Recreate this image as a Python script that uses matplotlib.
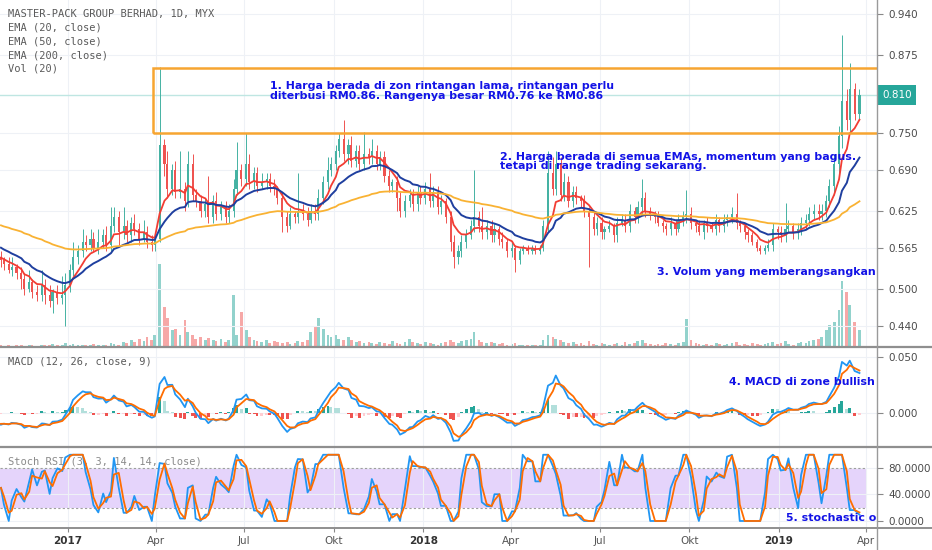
import numpy as np
import pandas as pd
import matplotlib
matplotlib.use("Agg")
import matplotlib.pyplot as plt
import matplotlib.dates as mdates
import matplotlib.transforms as mtransforms
from matplotlib.patches import Rectangle
from matplotlib.lines import Line2D

# ---- data: 3-day bars ----
start_date = "2016-10-24"
first_open = 0.55

close = [
    0.545, 0.540, 0.530, 0.535, 0.525, 0.515, 0.500, 0.510, 0.495, 0.490,
    0.505, 0.490, 0.480, 0.495, 0.485, 0.490, 0.505, 0.530, 0.550, 0.560,
    0.575, 0.570, 0.580, 0.565, 0.575, 0.585, 0.570, 0.600, 0.615, 0.590,
    0.600, 0.585, 0.605, 0.595, 0.580, 0.590, 0.575, 0.570, 0.580, 0.730,
    0.700, 0.660, 0.690, 0.655, 0.660, 0.640, 0.700, 0.650, 0.640, 0.625,
    0.635, 0.615, 0.640, 0.620, 0.630, 0.615, 0.625, 0.660, 0.690, 0.675,
    0.700, 0.670, 0.685, 0.665, 0.670, 0.675, 0.665, 0.660, 0.645, 0.615,
    0.600, 0.620, 0.615, 0.625, 0.620, 0.610, 0.625, 0.620, 0.645, 0.670,
    0.690, 0.700, 0.720, 0.740, 0.715, 0.730, 0.705, 0.720, 0.700, 0.715,
    0.710, 0.720, 0.700, 0.710, 0.680, 0.665, 0.670, 0.645, 0.625, 0.640,
    0.650, 0.635, 0.655, 0.645, 0.660, 0.640, 0.655, 0.630, 0.640, 0.615,
    0.575, 0.550, 0.560, 0.575, 0.585, 0.600, 0.615, 0.600, 0.590, 0.600,
    0.585, 0.595, 0.580, 0.575, 0.560, 0.565, 0.545, 0.560, 0.565, 0.560,
    0.565, 0.560, 0.565, 0.600, 0.685, 0.660, 0.700, 0.650, 0.670, 0.640,
    0.655, 0.645, 0.640, 0.625, 0.615, 0.595, 0.605, 0.590, 0.595, 0.600,
    0.585, 0.605, 0.610, 0.600, 0.625, 0.615, 0.630, 0.645, 0.625, 0.620,
    0.615, 0.605, 0.600, 0.595, 0.605, 0.595, 0.610, 0.615, 0.620, 0.605,
    0.600, 0.590, 0.605, 0.600, 0.595, 0.610, 0.600, 0.610, 0.615, 0.620,
    0.605, 0.600, 0.590, 0.585, 0.575, 0.565, 0.560, 0.565, 0.570, 0.595,
    0.590, 0.585, 0.595, 0.600, 0.590, 0.595, 0.605, 0.610, 0.620, 0.625,
    0.620, 0.625, 0.640, 0.665, 0.700, 0.745, 0.800, 0.770, 0.820, 0.780,
    0.810,
]

wick_up = [
    0.010, 0.005, 0.010, 0.015, 0.005, 0.010, 0.010, 0.020, 0.005, 0.010,
    0.025, 0.010, 0.015, 0.005, 0.010, 0.030, 0.020, 0.010, 0.025, 0.010,
    0.020, 0.010, 0.015, 0.010, 0.020, 0.010, 0.015, 0.030, 0.015, 0.010,
    0.030, 0.010, 0.010, 0.015, 0.010, 0.020, 0.010, 0.010, 0.010, 0.125,
    0.010, 0.020, 0.010, 0.015, 0.060, 0.010, 0.020, 0.015, 0.010, 0.010,
    0.010, 0.045, 0.010, 0.015, 0.010, 0.010, 0.010, 0.015, 0.045, 0.010,
    0.050, 0.015, 0.010, 0.010, 0.015, 0.010, 0.010, 0.010, 0.005, 0.010,
    0.010, 0.010, 0.005, 0.060, 0.010, 0.010, 0.010, 0.010, 0.015, 0.010,
    0.020, 0.010, 0.010, 0.010, 0.030, 0.010, 0.015, 0.010, 0.010, 0.036,
    0.010, 0.020, 0.010, 0.010, 0.010, 0.010, 0.005, 0.010, 0.010, 0.010,
    0.010, 0.010, 0.010, 0.010, 0.010, 0.025, 0.010, 0.010, 0.010, 0.005,
    0.010, 0.010, 0.010, 0.010, 0.010, 0.010, 0.075, 0.010, 0.030, 0.010,
    0.010, 0.010, 0.005, 0.010, 0.005, 0.010, 0.005, 0.005, 0.005, 0.005,
    0.005, 0.005, 0.005, 0.010, 0.035, 0.025, 0.020, 0.010, 0.015, 0.010,
    0.010, 0.010, 0.005, 0.010, 0.005, 0.010, 0.010, 0.010, 0.005, 0.010,
    0.005, 0.010, 0.010, 0.010, 0.010, 0.005, 0.010, 0.030, 0.010, 0.005,
    0.005, 0.010, 0.005, 0.005, 0.010, 0.005, 0.010, 0.010, 0.038, 0.010,
    0.005, 0.010, 0.005, 0.010, 0.005, 0.010, 0.005, 0.010, 0.005, 0.010,
    0.033, 0.005, 0.005, 0.005, 0.005, 0.005, 0.005, 0.005, 0.010, 0.010,
    0.005, 0.010, 0.042, 0.010, 0.005, 0.010, 0.010, 0.010, 0.010, 0.010,
    0.010, 0.010, 0.010, 0.010, 0.015, 0.015, 0.106, 0.020, 0.041, 0.010,
    0.010,
]

wick_dn = [
    0.010, 0.010, 0.005, 0.010, 0.010, 0.015, 0.010, 0.005, 0.010, 0.010,
    0.010, 0.015, 0.010, 0.020, 0.010, 0.010, 0.050, 0.010, 0.010, 0.010,
    0.010, 0.010, 0.010, 0.005, 0.010, 0.010, 0.010, 0.010, 0.010, 0.020,
    0.010, 0.010, 0.010, 0.010, 0.010, 0.005, 0.010, 0.010, 0.010, 0.005,
    0.020, 0.015, 0.010, 0.010, 0.010, 0.015, 0.010, 0.010, 0.010, 0.010,
    0.010, 0.010, 0.010, 0.010, 0.010, 0.010, 0.010, 0.010, 0.010, 0.010,
    0.010, 0.010, 0.010, 0.010, 0.005, 0.010, 0.010, 0.010, 0.010, 0.025,
    0.010, 0.005, 0.010, 0.010, 0.010, 0.010, 0.005, 0.010, 0.010, 0.010,
    0.010, 0.010, 0.010, 0.010, 0.010, 0.015, 0.010, 0.010, 0.010, 0.010,
    0.010, 0.010, 0.010, 0.010, 0.010, 0.010, 0.010, 0.020, 0.010, 0.010,
    0.010, 0.010, 0.010, 0.010, 0.010, 0.010, 0.010, 0.010, 0.010, 0.010,
    0.015, 0.017, 0.010, 0.010, 0.010, 0.005, 0.010, 0.010, 0.010, 0.010,
    0.010, 0.010, 0.010, 0.010, 0.010, 0.010, 0.018, 0.005, 0.005, 0.005,
    0.005, 0.005, 0.005, 0.005, 0.010, 0.010, 0.010, 0.010, 0.010, 0.010,
    0.010, 0.010, 0.010, 0.010, 0.080, 0.010, 0.010, 0.010, 0.010, 0.005,
    0.010, 0.010, 0.005, 0.010, 0.010, 0.010, 0.010, 0.010, 0.010, 0.010,
    0.010, 0.005, 0.010, 0.010, 0.010, 0.010, 0.005, 0.010, 0.010, 0.010,
    0.010, 0.005, 0.010, 0.010, 0.005, 0.010, 0.010, 0.010, 0.010, 0.010,
    0.010, 0.010, 0.010, 0.010, 0.005, 0.005, 0.005, 0.005, 0.005, 0.010,
    0.010, 0.010, 0.010, 0.005, 0.010, 0.010, 0.010, 0.010, 0.010, 0.010,
    0.010, 0.010, 0.010, 0.010, 0.015, 0.020, 0.020, 0.016, 0.020, 0.010,
    0.010,
]

volume = [
    2, 1, 3, 1, 2, 2, 1, 3, 2, 1,
    3, 2, 2, 4, 2, 3, 5, 3, 4, 3,
    2, 3, 2, 4, 3, 2, 3, 5, 4, 3,
    6, 5, 8, 6, 10, 7, 12, 9, 15, 100,
    48, 35, 20, 22, 15, 33, 18, 14, 10, 12,
    9, 11, 8, 7, 10, 6, 8, 63, 15, 42,
    20, 12, 8, 7, 6, 8, 5, 7, 6, 5,
    6, 4, 5, 7, 6, 8, 18, 25, 35, 22,
    15, 12, 14, 10, 9, 12, 8, 6, 7, 5,
    6, 5, 4, 6, 5, 4, 7, 5, 4, 6,
    10, 6, 5, 4, 6, 5, 4, 3, 5, 6,
    8, 6, 5, 7, 9, 10, 18, 8, 6, 5,
    6, 5, 4, 5, 3, 4, 5, 3, 2, 3,
    2, 3, 2, 8, 15, 12, 10, 8, 6, 5,
    6, 4, 5, 3, 7, 4, 3, 5, 4, 3,
    4, 5, 3, 6, 4, 5, 7, 9, 5, 4,
    3, 4, 3, 5, 4, 3, 5, 6, 34, 8,
    5, 4, 3, 4, 3, 5, 4, 3, 4, 5,
    6, 3, 4, 3, 5, 4, 3, 4, 5, 6,
    4, 5, 7, 4, 3, 5, 6, 5, 7, 8,
    10, 12, 20, 26, 30, 45, 80, 66, 50, 30,
    20,
]

# indicator values at the left edge of the chart
ema_periods = [20, 50, 200]
ema_start = [0.551, 0.568, 0.603]
macd_fast_start = 0.548
macd_slow_start = 0.5605
macd_signal_start = -0.009

x_tick_dates = ["2017-01-01", "2017-04-01", "2017-07-01", "2017-10-01",
                "2018-01-01", "2018-04-01", "2018-07-01", "2018-10-01",
                "2019-01-01", "2019-04-01"]
x_tick_labels = ["2017", "Apr", "Jul", "Okt", "2018", "Apr", "Jul", "Okt", "2019", "Apr"]
price_ticks = [0.440, 0.500, 0.565, 0.625, 0.690, 0.750, 0.875, 0.940]
last_price = 0.810
zone_low, zone_high = 0.750, 0.853
zone_start = "2017-03-29"

# ---- colours ----
UP = "#45b2a3"
DN = "#ef5350"
EMA_COLORS = ["#f23d33", "#1f3f9f", "#f9b233"]
BLUE = "#2196f3"
ORANGE = "#ff6d00"
NOTE = "#1212e6"
GREY_TXT = "#5a5a5a"


def ema(values, period, seed):
    # period is in daily bars, data is in 3-day bars
    a = 1 - (1 - 2 / (period + 1)) ** 3
    out = []
    e = seed
    for v in values:
        e += a * (v - e)
        out.append(e)
    return np.array(out)


close = np.array(close)
opn = np.r_[first_open, close[:-1]]
high = np.maximum(opn, close) + np.array(wick_up)
low = np.minimum(opn, close) - np.array(wick_dn)
dates = pd.bdate_range(start_date, periods=len(close), freq="3B")
x = mdates.date2num(dates.to_pydatetime())
up = close >= opn

# MACD
macd = ema(close, 12, macd_fast_start) - ema(close, 26, macd_slow_start)
signal = ema(macd, 9, macd_signal_start)
hist = macd - signal
prev = np.r_[hist[0], hist[:-1]]
hist_col = np.where(hist >= 0,
                    np.where(hist >= prev, "#26a69a", "#b2dfdb"),
                    np.where(hist < prev, "#ef5350", "#ffcdd2"))

# Stoch RSI
a_rsi = 1 - (13 / 14) ** 3
diff = np.diff(close, prepend=close[0])
gain = pd.Series(np.clip(diff, 0, None)).ewm(alpha=a_rsi, adjust=False).mean()
loss = pd.Series(np.clip(-diff, 0, None)).ewm(alpha=a_rsi, adjust=False).mean()
rsi = (100 - 100 / (1 + gain / loss.replace(0, np.nan))).fillna(50)
lo = rsi.rolling(5, min_periods=1).min()
hi = rsi.rolling(5, min_periods=1).max()
raw_k = (100 * (rsi - lo) / (hi - lo).replace(0, np.nan)).fillna(50)
k_line = raw_k.rolling(2, min_periods=1).mean()
d_line = k_line.rolling(2, min_periods=1).mean()

# ---- figure ----
fig = plt.figure(figsize=(9.32, 5.5), dpi=100)
W = 877 / 932
ax_vol = fig.add_axes([0, 1 - 347 / 550, W, 347 / 550])
ax = fig.add_axes([0, 1 - 347 / 550, W, 347 / 550], sharex=ax_vol)
ax_m = fig.add_axes([0, 1 - 447 / 550, W, 100 / 550], sharex=ax_vol)
ax_s = fig.add_axes([0, 1 - 528 / 550, W, 81 / 550], sharex=ax_vol)
ax_vol.set_zorder(0)
ax.set_zorder(1)
ax.patch.set_visible(False)

xlim = mdates.date2num([pd.Timestamp("2016-10-23"), pd.Timestamp("2019-04-12")])

# volume
vol_col = np.where(up, "#26a69a80", "#ef535080")
ax_vol.bar(x, volume, width=2.8, color=vol_col, linewidth=0)
ax_vol.set_ylim(0, 418)
ax_vol.axis("off")

# candles
cc = np.where(up, UP, DN)
ax.vlines(x, low, high, colors=cc, lw=0.7, zorder=3)
ax.bar(x, np.maximum(np.abs(close - opn), 0.0015), bottom=np.minimum(opn, close),
       width=2.2, color=cc, linewidth=0, zorder=4)
for p, s, c in zip(ema_periods, ema_start, EMA_COLORS):
    ax.plot(x, ema(close, p, s), color=c, lw=1.4 if p == 50 else 1.3, zorder=5)

ax.axhline(last_price, color="#bfe6e2", lw=1, zorder=2)
z0 = mdates.date2num(pd.Timestamp(zone_start))
ax.add_patch(Rectangle((z0, zone_low), xlim[1] + 200 - z0, zone_high - zone_low,
                       fill=False, ec="#f7a531", lw=1.8, zorder=6))
ax.set_ylim(0.4063, 0.9624)

# MACD panel
ax_m.bar(x, hist, width=3.0, color=hist_col, linewidth=0, zorder=2)
ax_m.plot(x, macd, color=BLUE, lw=1.3, zorder=3)
ax_m.plot(x, signal, color=ORANGE, lw=1.3, zorder=4)
ax_m.set_ylim(-0.0304, 0.0589)

# Stoch RSI panel
ax_s.axhspan(20, 80, xmin=0, xmax=866 / 877, color="#e5d4fb", lw=0, zorder=0)
for lvl in (20, 80):
    ax_s.axhline(lvl, xmin=0, xmax=866 / 877, color="#9e9e9e", lw=0.8, ls=(0, (2, 2)), zorder=1)
ax_s.plot(x, k_line, color=BLUE, lw=1.3, zorder=3)
ax_s.plot(x, d_line, color=ORANGE, lw=1.3, zorder=4)
ax_s.set_ylim(-10.6, 111.7)

# axes styling
tick_x = mdates.date2num(pd.to_datetime(x_tick_dates))
for a in (ax, ax_m, ax_s):
    a.set_xlim(*xlim)
    a.set_xticks(tick_x)
    for sp in a.spines.values():
        sp.set_visible(False)
    a.yaxis.tick_right()
    a.tick_params(axis="y", labelsize=7.5, labelcolor="#4a4a4a", color="#888888",
                  length=4, width=0.8, pad=4)
    a.grid(True, color="#eef1f6", lw=0.8, zorder=0)
    a.set_axisbelow(True)
for a in (ax, ax_m):
    a.tick_params(axis="x", bottom=False, labelbottom=False)

ax.set_yticks(price_ticks)
ax.set_yticklabels([f"{t:.3f}" for t in price_ticks])
ax_m.set_yticks([0.0, 0.05])
ax_m.set_yticklabels(["0.000", "0.050"])
ax_s.set_yticks([0, 40, 80])
ax_s.set_yticklabels(["0.0000", "40.0000", "80.0000"])
ax_s.set_xticklabels(x_tick_labels)
ax_s.tick_params(axis="x", labelsize=7.5, labelcolor="#555555", color="#888888",
                 length=3, width=0.8, pad=3)
for lab in ax_s.get_xticklabels():
    if lab.get_text().isdigit():
        lab.set_fontweight("bold")
        lab.set_color("#333333")

# price tag
trans = mtransforms.blended_transform_factory(ax.transAxes, ax.transData)
ax.text(1 + 5 / 877, last_price, f"{last_price:.3f}", transform=trans, ha="left", va="center",
        fontsize=7.5, color="white", clip_on=False, zorder=10,
        bbox=dict(boxstyle="square,pad=0.45", fc="#26a69a", ec="none"))

# legend texts
legend_lines = ["MASTER-PACK GROUP BERHAD, 1D, MYX", "EMA (20, close)", "EMA (50, close)",
                "EMA (200, close)", "Vol (20)"]
for i, t in enumerate(legend_lines):
    ax.text(8 / 877, 1 - (14 + 13.7 * i) / 347, t, transform=ax.transAxes, ha="left",
            va="center", fontsize=7.5, family="DejaVu Sans Mono", color=GREY_TXT, zorder=7)
ax_m.text(8 / 877, 1 - 15 / 100, "MACD (12, 26, close, 9)", transform=ax_m.transAxes,
          ha="left", va="center", fontsize=7.5, family="DejaVu Sans Mono", color=GREY_TXT)
ax_s.text(8 / 877, 1 - 14 / 81, "Stoch RSI (3, 3, 14, 14, close)", transform=ax_s.transAxes,
          ha="left", va="center", fontsize=7.5, family="DejaVu Sans Mono", color="#8a8a8a",
          zorder=2)

# notes
def note(a, date, y, txt):
    a.text(mdates.date2num(pd.Timestamp(date)), y, txt, ha="left", va="center", fontsize=7.9,
           fontweight="bold", color=NOTE, clip_on=True, zorder=8)

note(ax, "2017-07-27", 0.8246, "1. Harga berada di zon rintangan lama, rintangan perlu")
note(ax, "2017-07-27", 0.8086, "diterbusi RM0.86. Rangenya besar RM0.76 ke RM0.86")
note(ax, "2018-03-21", 0.7108, "2. Harga berada di semua EMAs, momentum yang bagus.")
note(ax, "2018-03-21", 0.6956, "tetapi di range trading sekarang.")
note(ax, "2018-08-29", 0.5265, "3. Volum yang memberangsangkan")
note(ax_m, "2018-11-11", 0.0279, "4. MACD di zone bullish")
note(ax_s, "2019-01-09", 4.5, "5. stochastic o")

# panel separators and right border
for yy, lw in ((347, 1.6), (447, 1.6), (528, 1.4)):
    fig.add_artist(Line2D([0, 1], [1 - yy / 550] * 2, transform=fig.transFigure,
                          color="#8f8f8f", lw=lw))
fig.add_artist(Line2D([W, W], [0, 1], transform=fig.transFigure, color="#9a9a9a", lw=1))

fig.savefig("out.png", dpi=100)
